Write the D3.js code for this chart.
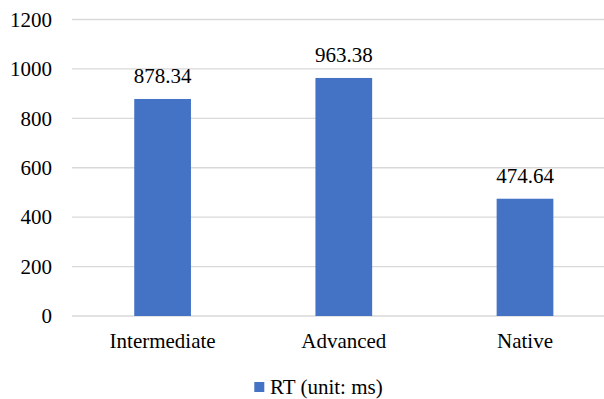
<!DOCTYPE html>
<html><head><meta charset="utf-8">
<script src="https://cdn.jsdelivr.net/npm/d3@7"></script>
<style>html,body{margin:0;padding:0;background:#fff;overflow:hidden}
svg text{font-family:"Liberation Serif","Times New Roman",serif !important;}</style>
</head><body>
<svg id="c" width="604" height="399"></svg>
<script>
const categories = ["Intermediate", "Advanced", "Native"];
const values = [878.34, 963.38, 474.64];
const valueLabels = ["878.34", "963.38", "474.64"];
const yTicks = [0, 200, 400, 600, 800, 1000, 1200];
const seriesName = "RT (unit: ms)";

(function () {
const svg = d3.select("#c");
const mLeft = 72, mRight = 615.6, mTop = 19.5, mBottom = 316;

const x = d3.scaleBand().domain(categories).range([mLeft, mRight])
  .paddingInner(0.687).paddingOuter(0.3435);
const y = d3.scaleLinear().domain([0, 1200]).range([mBottom, mTop]);

// gridlines
svg.append("g").selectAll("line").data(yTicks).join("line")
  .attr("x1", mLeft).attr("x2", 604)
  .attr("y1", d => y(d)).attr("y2", d => y(d))
  .attr("stroke", "#d9d9d9").attr("stroke-width", 1.3);

// y axis labels
const yAxis = d3.axisLeft(y).tickValues(yTicks).tickFormat(d3.format("d")).tickSize(0).tickPadding(20);
const gy = svg.append("g").attr("transform", `translate(${mLeft},0)`).call(yAxis);
gy.select(".domain").remove();
gy.attr("font-size", 21);
gy.selectAll("text").attr("fill", "#000");

// bars
svg.append("g").selectAll("rect").data(values).join("rect")
  .attr("x", (d, i) => x(categories[i]))
  .attr("width", x.bandwidth())
  .attr("y", d => y(d))
  .attr("height", d => y(0) - y(d))
  .attr("fill", "#4472C4");

// value labels
svg.append("g").selectAll("text").data(values).join("text")
  .attr("x", (d, i) => x(categories[i]) + x.bandwidth() / 2)
  .attr("y", d => y(d) - 16)
  .attr("text-anchor", "middle")
  .attr("font-size", 21).attr("fill", "#000")
  .text((d, i) => valueLabels[i]);

// x axis labels
const xAxis = d3.axisBottom(x).tickSize(0).tickPadding(17);
const gx = svg.append("g").attr("transform", `translate(0,${mBottom})`).call(xAxis);
gx.select(".domain").remove();
gx.attr("font-size", 21);
gx.selectAll("text").attr("fill", "#000");

// legend
const lg = svg.append("g");
lg.append("rect").attr("x", 254.3).attr("y", 382).attr("width", 10).attr("height", 10).attr("fill", "#4472C4");
lg.append("text").attr("x", 270).attr("y", 393.5)
  .attr("font-size", 21).attr("fill", "#000")
  .text(seriesName);
})();
</script>
</body></html>
